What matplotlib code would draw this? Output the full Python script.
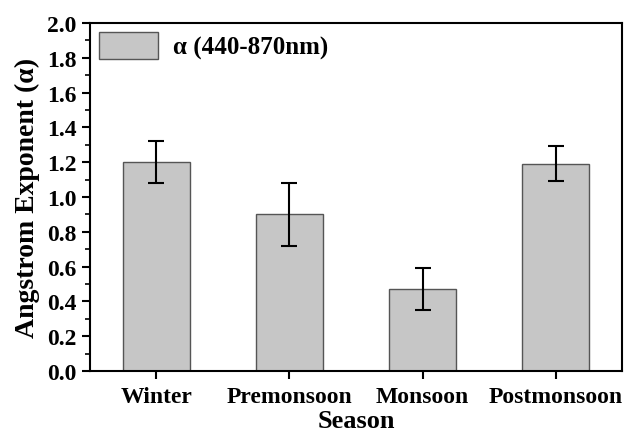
import numpy as np
import matplotlib.pyplot as plt
from matplotlib.ticker import MultipleLocator

seasons = ["Winter", "Premonsoon", "Monsoon", "Postmonsoon"]
alpha_vals = [1.20, 0.90, 0.47, 1.19]
alpha_err = [0.12, 0.18, 0.12, 0.10]

plt.rcParams['font.family'] = ['Liberation Serif', 'DejaVu Serif']
plt.rcParams['font.weight'] = 'bold'

fig = plt.figure(figsize=(6.24, 4.35), dpi=100)
ax = fig.add_axes([0.144, 0.145, 0.853, 0.800])

x = np.arange(len(seasons))
ax.bar(x, alpha_vals, width=0.5, color='#c6c6c6', edgecolor='#555555', linewidth=1.0,
       yerr=alpha_err, error_kw=dict(ecolor='black', elinewidth=1.5, capsize=6, capthick=1.5),
       label='α (440-870nm)')

ax.set_xlim(-0.5, 3.5)
ax.set_ylim(0, 2.0)
ax.yaxis.set_major_locator(MultipleLocator(0.2))
ax.yaxis.set_minor_locator(MultipleLocator(0.1))
ax.set_xticks(x)
ax.set_xticklabels(seasons)
ax.tick_params(axis='both', which='major', direction='out', length=6, width=1.5, labelsize=17)
ax.tick_params(axis='y', which='minor', direction='out', length=3.5, width=1.2)
ax.tick_params(axis='x', pad=5)
for s in ax.spines.values():
    s.set_linewidth(1.5)

for lab in ax.get_xticklabels() + ax.get_yticklabels():
    lab.set_fontweight('bold')

ax.set_xlabel('Season', fontsize=19, fontweight='bold', labelpad=1)
ax.set_ylabel('Angstrom Exponent (α)', fontsize=20, fontweight='bold', labelpad=5)

leg = ax.legend(loc='upper left', frameon=False, fontsize=18, handlelength=2.36, handleheight=1.3,
                borderaxespad=0.15, borderpad=0.2, handletextpad=0.6)
for t in leg.get_texts():
    t.set_fontweight('bold')

plt.savefig("out.png", dpi=100)
